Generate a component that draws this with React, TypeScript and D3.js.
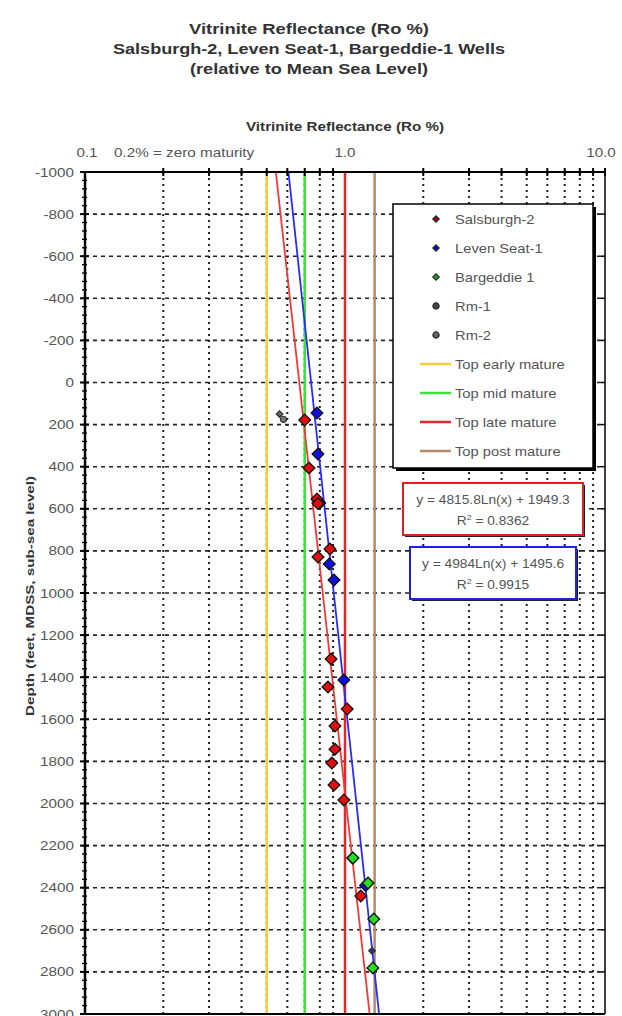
import * as d3 from 'd3';

// Vitrinite reflectance (Ro %) vs depth (ft, sub-sea)
const salsburgh: [number, number][] = [
  [0.70, 178], [0.727, 406], [0.78, 553], [0.787, 575], [0.875, 791], [0.787, 829],
  [0.884, 1314], [0.86, 1447], [1.02, 1551], [0.915, 1632], [0.915, 1742], [0.89, 1808],
  [0.907, 1912], [0.99, 1983], [1.07, 2259], [1.15, 2439],
];
const levenSeat: [number, number][] = [
  [0.78, 145], [0.787, 340], [0.80, 572], [0.87, 862], [0.907, 938], [0.99, 1413], [1.20, 2390],
];
const bargeddie: [number, number][] = [
  [1.073, 2259], [1.226, 2378], [1.29, 2549], [1.28, 2781],
];
const rm1: [number, number][] = [[0.56, 150], [1.27, 2700]];
const rm2: [number, number][] = [[0.58, 175]];

// maturity thresholds (Ro %)
const maturityTops = [
  { name: 'Top early mature', ro: 0.5, color: '#f2cf3c' },
  { name: 'Top mid mature', ro: 0.7, color: '#3ee23e' },
  { name: 'Top late mature', ro: 1.0, color: '#dd2a2a' },
  { name: 'Top post mature', ro: 1.3, color: '#b58a64' },
];

// log fits: depth = a*ln(Ro) + b
const fits = [
  { a: 4815.8, b: 1949.3, color: '#f03a3a', eq: 'y = 4815.8Ln(x) + 1949.3', r2: '0.8362' },
  { a: 4984, b: 1495.6, color: '#2a2aff', eq: 'y = 4984Ln(x) + 1495.6', r2: '0.9915' },
];

const titleLines = [
  'Vitrinite Reflectance (Ro %)',
  'Salsburgh-2, Leven Seat-1, Bargeddie-1 Wells',
  '(relative to Mean Sea Level)',
];
const titleWidths = [240, 392, 238];

const depthTicks = d3.range(-1000, 3001, 200);
const minorDepth = d3.range(-1000, 3001, 40);
const roGrid = [0.2, 0.3, 0.4, 0.5, 0.6, 0.7, 0.8, 0.9, 2, 3, 4, 5, 6, 7, 8, 9];
const roLabels = [
  { v: 0.1, t: '0.1' },
  { v: 1, t: '1.0' },
  { v: 10, t: '10.0' },
];

const W = 622;
const H = 1016;
const m = { left: 85, right: 605, top: 172, bottom: 1014 };

// text stretched horizontally, the source renders wide glyphs
function T({ x, y, sx = 1.22, anchor = 'start', size = 12.5, fill = '#555', bold = false, children }: any) {
  return (
    <text
      transform={`translate(${x},${y}) scale(${sx},1)`}
      textAnchor={anchor}
      fontSize={size}
      fill={fill}
      fontWeight={bold ? 'bold' : 'normal'}
    >
      {children}
    </text>
  );
}

export default function App() {
  const x = d3.scaleLog().domain([0.1, 10]).range([m.left, m.right]);
  const y = d3.scaleLinear().domain([-1000, 3000]).range([m.top, m.bottom]);
  const font = '"Liberation Sans", Arial, sans-serif';
  const diamond = d3.symbol().type(d3.symbolSquare).size(68)();
  const smallDiamond = d3.symbol().type(d3.symbolSquare).size(22)();
  const circle = d3.symbol().type(d3.symbolCircle).size(30)();

  const fitLine = (a: number, b: number) => {
    const pts = d3.range(-1000, 3001, 50).map(d => [Math.exp((d - b) / a), d]);
    return d3.line<number[]>().x(p => x(p[0])).y(p => y(p[1]))(pts) || '';
  };

  const series = [
    { data: levenSeat, fill: '#1010e0' },
    { data: salsburgh, fill: '#e01010' },
    { data: bargeddie, fill: '#22dd22' },
  ];

  const legendItems = [
    { name: 'Salsburgh-2', kind: 'd', color: '#8b0a0a' },
    { name: 'Leven Seat-1', kind: 'd', color: '#10109a' },
    { name: 'Bargeddie 1', kind: 'd', color: '#1a9a1a' },
    { name: 'Rm-1', kind: 'c', color: '#444' },
    { name: 'Rm-2', kind: 'c', color: '#666' },
    ...maturityTops.map(t => ({ name: t.name, kind: 'l', color: t.color })),
  ];

  return (
    <div style={{ position: 'absolute', left: 0, top: 0 }}>
      <svg width={W} height={H} style={{ display: 'block', fontFamily: font }}>
        <rect width={W} height={H} fill="#fff" />
        {/* title */}
        <g fontWeight="bold" fontSize={15} fill="#333" textAnchor="middle">
          {titleLines.map((t, i) => (
            <text key={t} x={309} y={34 + i * 20} textLength={titleWidths[i]} lengthAdjust="spacingAndGlyphs">{t}</text>
          ))}
        </g>
        <text x={345} y={131} textAnchor="middle" fontWeight="bold" fontSize={12} fill="#333" textLength={198} lengthAdjust="spacingAndGlyphs">
          Vitrinite Reflectance (Ro %)
        </text>
        {roLabels.map(l => (
          <T key={l.t} x={x(l.v) + (l.v === 0.1 ? 2 : l.v === 10 ? -4 : 0)} y={157} anchor="middle">
            {l.t}
          </T>
        ))}
        <T x={114} y={157}>0.2% = zero maturity</T>

        {/* grid */}
        {depthTicks.slice(1, -1).map(d => (
          <line key={'h' + d} x1={m.left} x2={m.right} y1={y(d)} y2={y(d)} stroke="#222" strokeWidth={1.6} strokeDasharray="4,4" />
        ))}
        {roGrid.map(v => (
          <line key={'v' + v} x1={x(v)} x2={x(v)} y1={m.top} y2={m.bottom} stroke="#222" strokeWidth={2} strokeDasharray="2,4" />
        ))}

        {/* maturity tops */}
        {maturityTops.map(t => (
          <line key={t.name} x1={x(t.ro)} x2={x(t.ro)} y1={m.top} y2={m.bottom} stroke={t.color} strokeWidth={2.5} />
        ))}

        {/* fits */}
        {fits.map(f => (
          <path key={f.eq} d={fitLine(f.a, f.b)} fill="none" stroke={f.color} strokeWidth={1.8} />
        ))}

        {/* points */}
        {series.map((s, i) => (
          <g key={i}>
            {s.data.map((p, j) => (
              <path key={j} d={diamond} transform={`translate(${x(p[0])},${y(p[1])}) rotate(45)`} fill={s.fill} stroke="#111" strokeWidth={1.3} />
            ))}
          </g>
        ))}
        {rm1.map((p, j) => (
          <path key={'r1' + j} d={smallDiamond} transform={`translate(${x(p[0])},${y(p[1])}) rotate(45)`} fill={j ? '#2a2a9a' : '#666'} stroke="#333" strokeWidth={1.2} />
        ))}
        {rm2.map((p, j) => (
          <path key={'r2' + j} d={circle} transform={`translate(${x(p[0])},${y(p[1])})`} fill="#777" stroke="#333" strokeWidth={1.2} />
        ))}

        {/* axes frame */}
        <line x1={m.left} x2={m.right} y1={m.top} y2={m.top} stroke="#000" strokeWidth={2.2} />
        <line x1={m.left} x2={m.left} y1={m.top} y2={m.bottom} stroke="#000" strokeWidth={2.5} />
        <line x1={m.right} x2={m.right} y1={m.top} y2={m.bottom} stroke="#000" strokeWidth={1.5} />
        <line x1={m.left} x2={m.right} y1={m.bottom} y2={m.bottom} stroke="#000" strokeWidth={2} />
        {[...roGrid, 10].map(v => (
          <line key={'tt' + v} x1={x(v)} x2={x(v)} y1={m.top - 4} y2={m.top + 4} stroke="#000" strokeWidth={2} />
        ))}
        {minorDepth.map(d => (
          <line key={'mt' + d} x1={m.left - 3} x2={m.left + 2} y1={y(d)} y2={y(d)} stroke="#000" strokeWidth={1.3} />
        ))}
        {depthTicks.map(d => (
          <line key={'Mt' + d} x1={m.left - 5} x2={m.left + 4} y1={y(d)} y2={y(d)} stroke="#000" strokeWidth={2} />
        ))}
        {depthTicks.map(d => (
          <line key={'rt' + d} x1={m.right - 4} x2={m.right} y1={y(d)} y2={y(d)} stroke="#000" strokeWidth={1.5} />
        ))}
        {depthTicks.map(d => (
          <T key={'yl' + d} x={74} y={y(d) + 4.5} anchor="end">{d}</T>
        ))}
        <text transform={`translate(34,596) rotate(-90)`} textAnchor="middle" fontWeight="bold" fontSize={11.5} fill="#333" textLength={240} lengthAdjust="spacingAndGlyphs">
          Depth (feet, MDSS, sub-sea level)
        </text>

        {/* legend */}
        <rect x={396} y={207} width={200} height={264} fill="#000" />
        <rect x={393} y={204} width={200} height={264} fill="#fff" stroke="#000" strokeWidth={1.5} />
        {legendItems.map((it, i) => {
          const ly = 219 + i * 29;
          return (
            <g key={it.name}>
              {it.kind === 'd' && (
                <path d={smallDiamond} transform={`translate(436,${ly}) rotate(45)`} fill={it.color} stroke="#222" strokeWidth={1} />
              )}
              {it.kind === 'c' && (
                <path d={circle} transform={`translate(436,${ly})`} fill={it.color} stroke="#222" strokeWidth={1.2} />
              )}
              {it.kind === 'l' && (
                <line x1={420} x2={451} y1={ly} y2={ly} stroke={it.color} strokeWidth={2.5} />
              )}
              <T x={455} y={ly + 4.5} sx={1.18}>{it.name}</T>
            </g>
          );
        })}

        {/* fit equations */}
        {fits.map((f, i) => {
          const bx = i ? 410 : 403;
          const by = i ? 547 : 483;
          const bw = i ? 166 : 180;
          return (
            <g key={'eq' + i}>
              <rect x={bx + 2} y={by + 2} width={bw} height={52} fill="#222" />
              <rect x={bx} y={by} width={bw} height={52} fill="#fff" stroke={i ? '#2020e0' : '#e02020'} strokeWidth={2} />
              <T x={bx + bw / 2} y={by + 21} anchor="middle" sx={1.1}>{f.eq}</T>
              <T x={bx + bw / 2} y={by + 42} anchor="middle" sx={1.1}>
                R<tspan dy={-5} fontSize={8}>2</tspan><tspan dy={5}> = {f.r2}</tspan>
              </T>
            </g>
          );
        })}
      </svg>
    </div>
  );
}
